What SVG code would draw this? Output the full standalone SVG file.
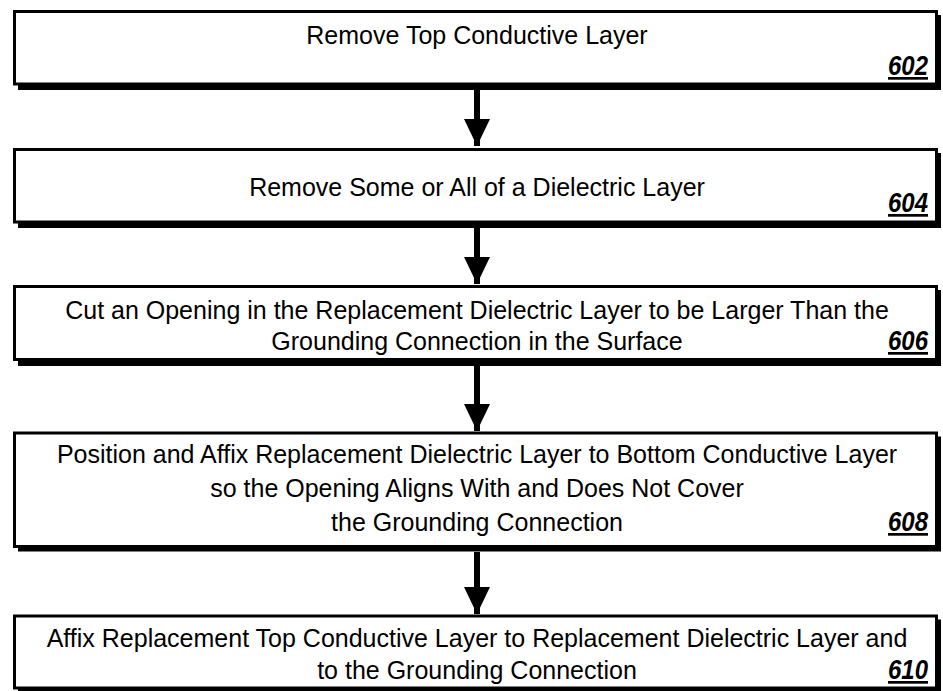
<svg xmlns="http://www.w3.org/2000/svg" width="943" height="691" viewBox="0 0 943 691">
<style>
.shadow{fill:#000}
.box{fill:#fff;stroke:#000;stroke-width:3}
.t{font-family:"Liberation Sans",Arial,sans-serif;font-size:25px;fill:#000;text-anchor:middle}
.ref{font-family:"Liberation Sans",Arial,sans-serif;font-size:27px;font-weight:bold;font-style:italic;fill:#000;text-anchor:end;text-decoration:underline}
.shaft{stroke:#000;stroke-width:6}
</style>
<defs>
<marker id="ah" markerUnits="userSpaceOnUse" markerWidth="28" markerHeight="28" refX="27" refY="13" orient="auto">
<path d="M0,0 L27,13 L0,26 Z" fill="#000"/>
</marker>
</defs>
<rect width="943" height="691" fill="#fff"/>
<g id="connectors">
<line class="shaft" x1="477" y1="90" x2="477" y2="146" marker-end="url(#ah)"/>
<line class="shaft" x1="477" y1="228" x2="477" y2="284" marker-end="url(#ah)"/>
<line class="shaft" x1="477" y1="366" x2="477" y2="431" marker-end="url(#ah)"/>
<line class="shaft" x1="477" y1="552" x2="477" y2="614" marker-end="url(#ah)"/>
</g>
<g id="n602">
<rect class="shadow" x="18" y="15" width="923" height="75"/>
<rect class="box" x="14.5" y="11.5" width="922" height="72.5"/>
<text class="t" x="477" y="44">Remove Top Conductive Layer</text>
<text class="ref" x="928" y="75" textLength="40" lengthAdjust="spacingAndGlyphs">602</text>
</g>
<g id="n604">
<rect class="shadow" x="18" y="153" width="923" height="75"/>
<rect class="box" x="14.5" y="149.5" width="922" height="72.5"/>
<text class="t" x="477" y="196">Remove Some or All of a Dielectric Layer</text>
<text class="ref" x="928" y="212" textLength="40" lengthAdjust="spacingAndGlyphs">604</text>
</g>
<g id="n606">
<rect class="shadow" x="18" y="290" width="923" height="76"/>
<rect class="box" x="14.5" y="286.5" width="922" height="73"/>
<text class="t" x="477" y="319">Cut an Opening in the Replacement Dielectric Layer to be Larger Than the</text>
<text class="t" x="477" y="350">Grounding Connection in the Surface</text>
<text class="ref" x="928" y="350" textLength="40" lengthAdjust="spacingAndGlyphs">606</text>
</g>
<g id="n608">
<rect class="shadow" x="18" y="436.5" width="923" height="115"/>
<rect class="box" x="14.5" y="433" width="922" height="113.5"/>
<text class="t" x="477" y="463">Position and Affix Replacement Dielectric Layer to Bottom Conductive Layer</text>
<text class="t" x="477" y="497">so the Opening Aligns With and Does Not Cover</text>
<text class="t" x="477" y="531">the Grounding Connection</text>
<text class="ref" x="928" y="531" textLength="40" lengthAdjust="spacingAndGlyphs">608</text>
</g>
<g id="n610">
<rect class="shadow" x="18" y="619.5" width="923" height="75"/>
<rect class="box" x="14.5" y="616" width="922" height="72"/>
<text class="t" x="477" y="647">Affix Replacement Top Conductive Layer to Replacement Dielectric Layer and</text>
<text class="t" x="477" y="679">to the Grounding Connection</text>
<text class="ref" x="928" y="679" textLength="40" lengthAdjust="spacingAndGlyphs">610</text>
</g>
</svg>
